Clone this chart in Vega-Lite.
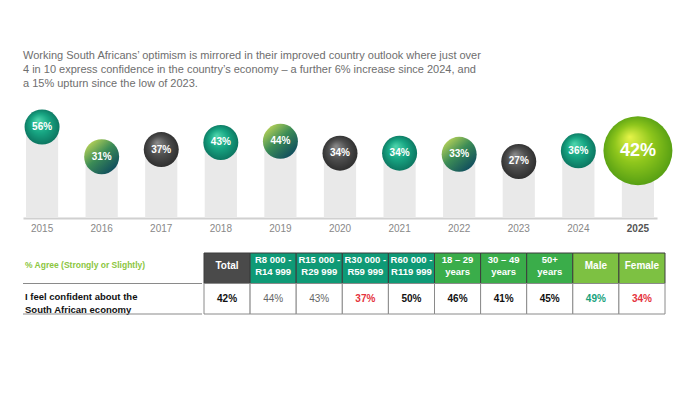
{
  "$schema": "https://vega.github.io/schema/vega-lite/v6.json",
  "background": "white",
  "padding": {"left": 22, "top": 50, "right": 0, "bottom": 0},
  "config": {"view": {"stroke": null}, "font": "Liberation Sans"},
  "title": {
    "text": [
      "Working South Africans’ optimism is mirrored in their improved country outlook where just over",
      "4 in 10 express confidence in the country’s economy – a further 6% increase since 2024, and",
      "a 15% upturn since the low of 2023."
    ],
    "anchor": "start",
    "frame": "group",
    "font": "Liberation Sans",
    "fontSize": 11,
    "fontWeight": "normal",
    "color": "#6e6e6e",
    "lineHeight": 14,
    "offset": 11
  },
  "spacing": 19,
  "vconcat": [
    {
      "width": 634,
      "height": 118,
      "data": {
        "values": [
          {"year": 2015, "value": 0.56},
          {"year": 2016, "value": 0.31},
          {"year": 2017, "value": 0.37},
          {"year": 2018, "value": 0.43},
          {"year": 2019, "value": 0.44},
          {"year": 2020, "value": 0.34},
          {"year": 2021, "value": 0.34},
          {"year": 2022, "value": 0.33},
          {"year": 2023, "value": 0.27},
          {"year": 2024, "value": 0.36},
          {"year": 2025, "value": 0.42}
        ]
      },
      "encoding": {
        "x": {
          "field": "year",
          "type": "ordinal",
          "scale": {"paddingInner": 0.46, "paddingOuter": 0.05},
          "axis": {
            "title": null,
            "labelAngle": 0,
            "ticks": false,
            "domainColor": "#d0d0d0",
            "domainWidth": 2,
            "labelFont": "Liberation Sans",
            "labelFontSize": 10,
            "labelPadding": 5,
            "labelColor": {"condition": {"test": "datum.label === '2025'", "value": "#555555"}, "value": "#888888"},
            "labelFontWeight": {"condition": {"test": "datum.label === '2025'", "value": "bold"}, "value": "normal"}
          }
        },
        "y": {
          "field": "value",
          "type": "quantitative",
          "scale": {"domain": [-0.205, 0.787], "nice": false, "zero": false},
          "axis": null
        }
      },
      "layer": [
        {
          "mark": {"type": "bar", "color": "#e9e9e9"},
          "encoding": {"y2": {"datum": -0.205}}
        },
        {
          "transform": [{"filter": {"field": "year", "oneOf": [2015, 2018, 2021, 2024]}}],
          "mark": {
            "type": "circle", "size": 1225, "opacity": 1,
            "fill": {"gradient": "radial", "x1": 0.38, "y1": 0.3, "r1": 0, "x2": 0.5, "y2": 0.5, "r2": 0.55,
              "stops": [{"offset": 0, "color": "#4fd6ad"}, {"offset": 0.5, "color": "#17a582"}, {"offset": 1, "color": "#0b6f5c"}]}
          }
        },
        {
          "transform": [{"filter": {"field": "year", "oneOf": [2016, 2019, 2022]}}],
          "mark": {
            "type": "circle", "size": 1225, "opacity": 1,
            "fill": {"gradient": "linear", "x1": 0.15, "y1": 0.1, "x2": 0.85, "y2": 0.9,
              "stops": [{"offset": 0, "color": "#b2cf58"}, {"offset": 0.45, "color": "#3c8c56"}, {"offset": 1, "color": "#0f4c5e"}]}
          }
        },
        {
          "transform": [{"filter": {"field": "year", "oneOf": [2017, 2020, 2023]}}],
          "mark": {
            "type": "circle", "size": 1225, "opacity": 1,
            "fill": {"gradient": "radial", "x1": 0.38, "y1": 0.3, "r1": 0, "x2": 0.5, "y2": 0.5, "r2": 0.55,
              "stops": [{"offset": 0, "color": "#8c8c8c"}, {"offset": 0.5, "color": "#4e4e4e"}, {"offset": 1, "color": "#2a2a2a"}]}
          }
        },
        {
          "transform": [{"filter": {"field": "year", "oneOf": [2025]}}],
          "mark": {
            "type": "circle", "size": 4761, "opacity": 1, "yOffset": 7,
            "fill": {"gradient": "radial", "x1": 0.38, "y1": 0.3, "r1": 0, "x2": 0.5, "y2": 0.5, "r2": 0.55,
              "stops": [{"offset": 0, "color": "#e6f448"}, {"offset": 0.5, "color": "#8ec61c"}, {"offset": 1, "color": "#4f9a12"}]}
          }
        },
        {
          "transform": [{"filter": "datum.year !== 2025"}],
          "mark": {"type": "text", "color": "white", "fontWeight": "bold", "fontSize": 10, "baseline": "middle"},
          "encoding": {"text": {"field": "value", "type": "quantitative", "format": ".0%"}}
        },
        {
          "transform": [{"filter": "datum.year === 2025"}],
          "mark": {"type": "text", "color": "white", "fontWeight": "bold", "fontSize": 18, "baseline": "middle", "yOffset": 7},
          "encoding": {"text": {"field": "value", "type": "quantitative", "format": ".0%"}}
        }
      ]
    },
    {
      "spacing": 0,
      "hconcat": [
        {
          "width": 179,
          "height": 61,
          "data": {
            "values": [
              {"row": "header", "label": "% Agree (Strongly or Slightly)"},
              {"row": "statement", "label": "I feel confident about the\nSouth African economy"}
            ]
          },
          "encoding": {
            "x": {"datum": 0, "type": "quantitative", "scale": {"domain": [0, 1]}, "axis": null},
            "y": {"field": "row", "type": "nominal", "scale": {"domain": ["header", "statement"], "paddingInner": 0, "paddingOuter": 0}, "axis": null}
          },
          "layer": [
            {
              "transform": [{"filter": "datum.row === 'header'"}],
              "mark": {"type": "text", "align": "left", "baseline": "middle", "color": "#8cc63f", "fontSize": 8.5, "fontWeight": "bold", "font": "Liberation Sans", "dx": 2, "dy": -3},
              "encoding": {"text": {"field": "label"}}
            },
            {
              "transform": [{"filter": "datum.row === 'statement'"}],
              "mark": {"type": "text", "align": "left", "baseline": "middle", "color": "#111111", "fontSize": 9.5, "fontWeight": "bold", "lineBreak": "\n", "lineHeight": 13, "font": "Liberation Sans", "dx": 2, "dy": -2},
              "encoding": {"text": {"field": "label"}}
            },
            {
              "mark": {"type": "rule", "color": "#8a8a8a", "strokeWidth": 1.2},
              "encoding": {
                "x2": {"datum": 1},
                "y": {"field": "row", "type": "nominal", "bandPosition": 1}
              }
            }
          ]
        },
        {
          "width": 461,
          "height": 61,
          "data": {
            "values": [
              {"segment": "Total", "group": "Total", "value": 0.42, "sig": "none"},
              {"segment": "R8 000 -\nR14 999", "group": "Income", "value": 0.44, "sig": "none"},
              {"segment": "R15 000 -\nR29 999", "group": "Income", "value": 0.43, "sig": "none"},
              {"segment": "R30 000 -\nR59 999", "group": "Income", "value": 0.37, "sig": "lower"},
              {"segment": "R60 000 -\nR119 999", "group": "Income", "value": 0.50, "sig": "none"},
              {"segment": "18 – 29\nyears", "group": "Age", "value": 0.46, "sig": "none"},
              {"segment": "30 – 49\nyears", "group": "Age", "value": 0.41, "sig": "none"},
              {"segment": "50+\nyears", "group": "Age", "value": 0.45, "sig": "none"},
              {"segment": "Male", "group": "Gender", "value": 0.49, "sig": "higher"},
              {"segment": "Female", "group": "Gender", "value": 0.34, "sig": "lower"}
            ]
          },
          "encoding": {
            "x": {"field": "segment", "type": "nominal", "sort": null, "scale": {"paddingInner": 0, "paddingOuter": 0}, "axis": null}
          },
          "layer": [
            {
              "mark": {"type": "rect", "stroke": "#3c3c3c", "strokeWidth": 1},
              "encoding": {
                "y": {"datum": "header", "type": "nominal", "scale": {"domain": ["header", "statement"], "paddingInner": 0, "paddingOuter": 0}, "axis": null},
                "fill": {"field": "group", "type": "nominal", "scale": {"domain": ["Total", "Income", "Age", "Gender"], "range": ["#4a4a4a", "#0f9a76", "#3aad4a", "#7dc142"]}, "legend": null}
              }
            },
            {
              "transform": [{"filter": "indexof(datum.segment, '\\n') < 0"}],
              "mark": {"type": "text", "color": "white", "fontWeight": "bold", "fontSize": 10, "baseline": "middle", "dy": -2, "font": "Liberation Sans"},
              "encoding": {
                "y": {"datum": "header", "type": "nominal"},
                "text": {"field": "segment"}
              }
            },
            {
              "transform": [{"filter": "indexof(datum.segment, '\\n') >= 0"}],
              "mark": {"type": "text", "color": "white", "fontWeight": "bold", "fontSize": 9.5, "lineBreak": "\n", "lineHeight": 11.5, "baseline": "middle", "dy": -8, "font": "Liberation Sans"},
              "encoding": {
                "y": {"datum": "header", "type": "nominal"},
                "text": {"field": "segment"}
              }
            },
            {
              "mark": {"type": "rect", "fill": "white", "stroke": "#8a8a8a", "strokeWidth": 1},
              "encoding": {"y": {"datum": "statement", "type": "nominal"}}
            },
            {
              "transform": [{"filter": "indexof(datum.segment, 'R14') < 0 && indexof(datum.segment, 'R29') < 0"}],
              "mark": {"type": "text", "fontWeight": "bold", "fontSize": 10, "baseline": "middle"},
              "encoding": {
                "y": {"datum": "statement", "type": "nominal"},
                "text": {"field": "value", "type": "quantitative", "format": ".0%"},
                "color": {
                  "condition": [
                    {"test": "datum.sig === 'lower'", "value": "#e5333d"},
                    {"test": "datum.sig === 'higher'", "value": "#17a27c"}
                  ],
                  "value": "#111111"
                }
              }
            },
            {
              "transform": [{"filter": "indexof(datum.segment, 'R14') >= 0 || indexof(datum.segment, 'R29') >= 0"}],
              "mark": {"type": "text", "fontWeight": "normal", "fontSize": 10, "baseline": "middle", "color": "#666666"},
              "encoding": {
                "y": {"datum": "statement", "type": "nominal"},
                "text": {"field": "value", "type": "quantitative", "format": ".0%"}
              }
            }
          ]
        }
      ]
    }
  ]
}
